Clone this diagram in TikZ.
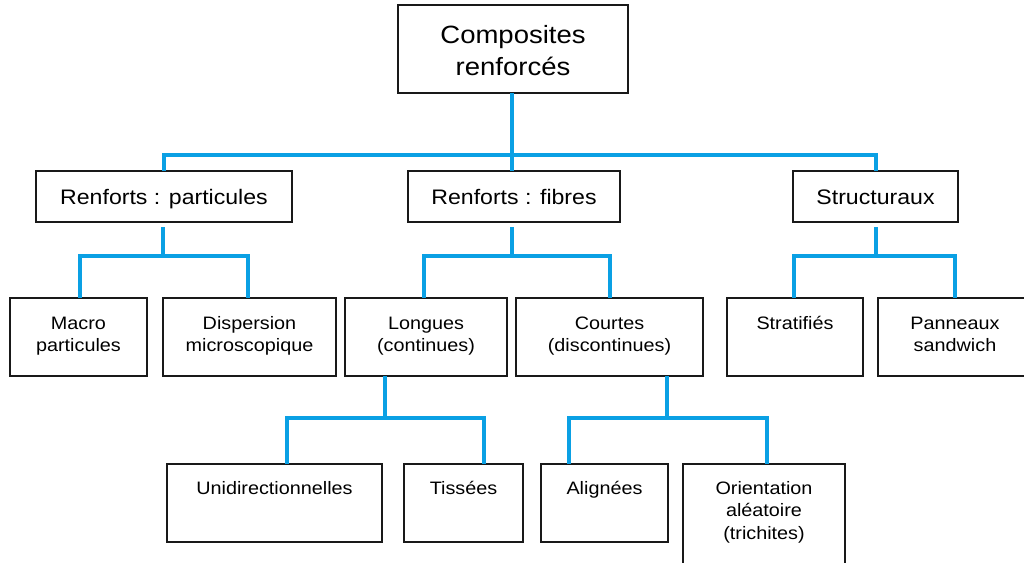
\documentclass[tikz,border=0pt]{standalone}
\usepackage{fontspec}
\setmainfont{Liberation Sans}[FakeStretch=1.1]
\usetikzlibrary{calc}
\definecolor{conncol}{RGB}{10,160,228}
\definecolor{boxcol}{RGB}{25,25,25}
\begin{document}
\begin{tikzpicture}[x=1pt,y=-1pt,
  box/.style={draw=boxcol, line width=1.8pt, fill=white, outer sep=0pt, inner sep=0pt},
  conn/.style={draw=conncol, line width=4pt},
  lvtwo/.style={box, minimum height=51pt, font=\fontsize{21}{25}\selectfont, text height=15pt, text depth=0pt},
  lvthree/.style={box, minimum height=78pt},
  txtone/.style={anchor=north, align=center, inner sep=0pt, outer sep=0pt, yshift=-15.9pt, font=\fontsize{25}{32}\selectfont},
  txtthree/.style={anchor=north, align=center, inner sep=0pt, outer sep=0pt, yshift=-15.6pt, font=\fontsize{18}{22}\selectfont},
  txtfour/.style={anchor=north, align=center, inner sep=0pt, outer sep=0pt, yshift=-14.6pt, font=\fontsize{18}{22.5}\selectfont}]
\useasboundingbox (0,0) rectangle (1024,562);
\clip (0,0) rectangle (1024,562);
\fill[white] (0,0) rectangle (1024,562);

% level 1
\node[box, minimum width=230pt, minimum height=88pt] (top) at (513,49) {};
\node[txtone] (topT) at (top.north) {\strut Composites\\renforcés};

% level 2
\node[lvtwo, minimum width=256pt] (part) at (164,196.5) {Renforts : particules};
\node[lvtwo, minimum width=212pt] (fib) at (514,196.5) {Renforts : fibres};
\node[lvtwo, minimum width=165pt] (struct) at (875.5,196.5) {Structuraux};

% level 3
\node[lvthree, minimum width=137pt] (macro) at (78.5,337) {};
\node[lvthree, minimum width=173pt] (disp) at (249.5,337) {};
\node[lvthree, minimum width=162pt] (longues) at (426,337) {};
\node[lvthree, minimum width=187pt] (courtes) at (609.5,337) {};
\node[lvthree, minimum width=136pt] (strat) at (795,337) {};
\node[lvthree, minimum width=154pt] (pann) at (955,337) {};
\node[txtthree] (macroT) at (macro.north) {\strut Macro\\particules};
\node[txtthree] (dispT) at (disp.north) {\strut Dispersion\\microscopique};
\node[txtthree] (longuesT) at (longues.north) {\strut Longues\\(continues)};
\node[txtthree] (courtesT) at (courtes.north) {\strut Courtes\\(discontinues)};
\node[txtthree] (stratT) at (strat.north) {\strut Stratifiés};
\node[txtthree] (pannT) at (pann.north) {\strut Panneaux\\sandwich};

% level 4
\node[lvthree, minimum width=215pt] (unid) at (274.5,503) {};
\node[lvthree, minimum width=119pt] (tiss) at (463.5,503) {};
\node[lvthree, minimum width=127pt] (align) at (604.5,503) {};
\node[box, minimum width=162pt, minimum height=120pt] (orient) at (764,524) {};
\node[txtfour] (unidT) at (unid.north) {\strut Unidirectionnelles};
\node[txtfour] (tissT) at (tiss.north) {\strut Tissées};
\node[txtfour] (alignT) at (align.north) {\strut Alignées};
\node[txtfour] (orientT) at (orient.north) {\strut Orientation\\aléatoire\\(trichites)};

% connectors level 1 -> 2
\coordinate (j0) at ($(top.south)+(-1,62)$);
\draw[conn] ([xshift=-1pt]top.south) -- (j0);
\draw[conn] (part.north) |- (j0) -| (struct.north);
\draw[conn] (j0) -- (j0 |- fib.north);

% level 2 -> 3
\coordinate (j1) at ($(part.south)+(-1,34)$);
\draw[conn] ([xshift=-1pt,yshift=-5pt]part.south) -- (j1);
\draw[conn] ([xshift=1.5pt]macro.north) |- (j1) -| ([xshift=-1.5pt]disp.north);

\coordinate (j2) at ($(fib.south)+(-2,34)$);
\draw[conn] ([xshift=-2pt,yshift=-5pt]fib.south) -- (j2);
\draw[conn] ([xshift=-2pt]longues.north) |- (j2) -| (courtes.north);

\coordinate (j3) at ($(struct.south)+(0.5,34)$);
\draw[conn] ([xshift=0.5pt,yshift=-5pt]struct.south) -- (j3);
\draw[conn] ([xshift=-1pt]strat.north) |- (j3) -| (pann.north);

% level 3 -> 4
\coordinate (j4) at ($(longues.south)+(-41,42)$);
\draw[conn] ([xshift=-41pt]longues.south) -- (j4);
\draw[conn] ([xshift=12.5pt]unid.north) |- (j4) -| ([xshift=20.5pt]tiss.north);

\coordinate (j5) at ($(courtes.south)+(57.5,42)$);
\draw[conn] ([xshift=57.5pt]courtes.south) -- (j5);
\draw[conn] ([xshift=-35.5pt]align.north) |- (j5) -| ([xshift=3pt]orient.north);
\end{tikzpicture}
\end{document}
